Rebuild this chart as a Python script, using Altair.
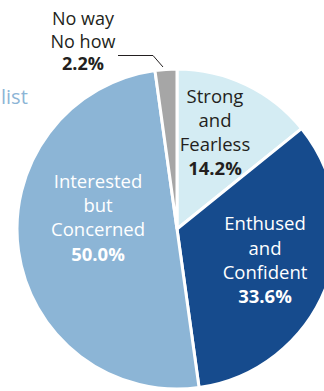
import altair as alt
import pandas as pd

# ---- data ----
categories = ["Strong and Fearless", "Enthused and Confident", "Interested but Concerned", "No way No how"]
values = [14.2, 33.6, 50.0, 2.2]
label_lines = [["Strong", "and", "Fearless"], ["Enthused", "and", "Confident"], ["Interested", "but", "Concerned"], ["No way", "No how"]]
side_text = "list"

colors = ["#d4ecf3", "#164b8d", "#8cb5d6", "#a6a6a6"]
text_colors = ["#231f20", "#ffffff", "#ffffff", "#231f20"]

W, H = 324, 391
CX, CY, R = 177, 229, 160
FONT = "Open Sans"
FS = 18.5

df = pd.DataFrame({"category": categories, "value": values, "order": list(range(len(categories)))})

pie = alt.Chart(df).mark_arc(outerRadius=R, stroke="white", strokeWidth=3).encode(
    theta=alt.Theta("value:Q", stack=True),
    color=alt.Color("category:N", scale=alt.Scale(domain=categories, range=colors), legend=None),
    order=alt.Order("order:Q"),
    x=alt.value(CX),
    y=alt.value(CY),
)

# label placement (style, not data): (x, first baseline, line height, pct baseline, font size)
placement = [
    (215, 103, 24, 175, FS),
    (265, 230, 24.5, 303, FS),
    (98, 188, 24, 261, FS),
    (83, 24.5, 23, 70, 18),
]

layers = [pie]
for i, cat in enumerate(categories):
    x, y0, lh, yp, fs = placement[i]
    for j, line in enumerate(label_lines[i]):
        line_df = pd.DataFrame({"t": [line]})
        layers.append(
            alt.Chart(line_df).mark_text(
                x=x, y=y0 + j * lh, align="center", baseline="alphabetic",
                font=FONT, fontSize=fs, color=text_colors[i],
            ).encode(text="t:N")
        )
    pct_df = pd.DataFrame({"t": [f"{values[i]:.1f}%"]})
    layers.append(
        alt.Chart(pct_df).mark_text(
            x=x, y=yp, align="center", baseline="alphabetic",
            font=FONT, fontSize=fs, fontWeight="bold", color=text_colors[i],
        ).encode(text="t:N")
    )

# leader line for the small slice
lead = pd.DataFrame({"a": [0]})
layers.append(alt.Chart(lead).mark_rule(color="#231f20", strokeWidth=1).encode(
    x=alt.value(118), x2=alt.value(153), y=alt.value(55.5), y2=alt.value(55.5)))
layers.append(alt.Chart(lead).mark_rule(color="#231f20", strokeWidth=1).encode(
    x=alt.value(153), x2=alt.value(163), y=alt.value(55.5), y2=alt.value(67)))

side_df = pd.DataFrame({"t": [side_text]})
layers.append(alt.Chart(side_df).mark_text(
    x=1, y=104, align="left", baseline="alphabetic", font=FONT, fontSize=20, color="#8cb5d6"
).encode(text="t:N"))

chart = alt.layer(*layers).properties(
    width=W, height=H, padding=0, autosize=alt.AutoSizeParams(type="none")
).configure_view(stroke=None)

chart.save("out.html", embed_options={"renderer": "svg", "actions": False})
